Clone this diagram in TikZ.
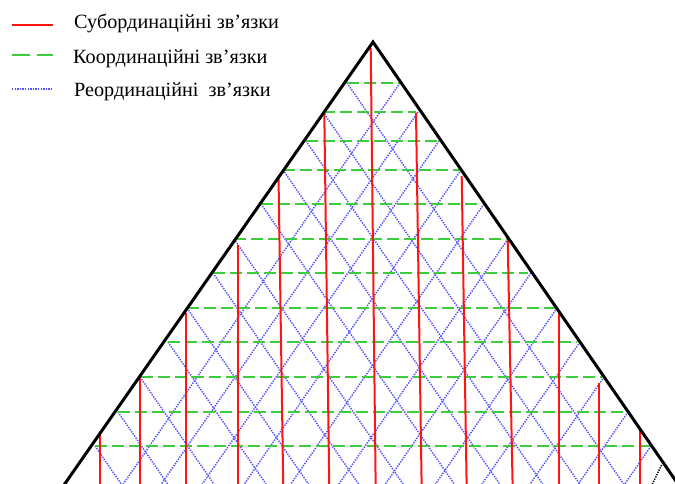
\documentclass[tikz,border=0pt]{standalone}
\usepackage{fontspec}
\setmainfont{Liberation Serif}
\definecolor{subred}{RGB}{255,20,20}
\definecolor{coordgreen}{RGB}{60,205,60}
\definecolor{reordblue}{RGB}{85,85,255}
\begin{document}
\begin{tikzpicture}[x=1pt,y=-1pt,
  sideline/.style={black, line width=3pt, line join=miter},
  subline/.style={subred, line width=2pt},
  coordline/.style={coordgreen, line width=2pt, dash pattern=on 12pt off 5pt},
  reordline/.style={reordblue, line width=1.5pt, dash pattern=on 1.4pt off 1.2pt},
  legtext/.style={anchor=base west, inner sep=0pt, font=\fontsize{20.2}{23}\selectfont}]
\useasboundingbox (0,0) rectangle (675,484);
\begin{scope}
\clip (0,0) rectangle (675,484);
% reordination (blue dotted) lattice
\foreach \y/\xa/\xb in {83/347/400,112/323/418,141/306/439,170/283/461,
  204/261/484,239/234/508,273/213/531,308/187/557,342/168/580,
  377/140/604,412/118/628,446/95/651}{
  \draw[reordline] (\xa,\y) -- ++({0.69*(520-\y)},{520-\y});
  \draw[reordline] (\xb,\y) -- ++({-0.69*(520-\y)},{520-\y});
}
% coordination (green dashed)
\foreach \y/\xa/\xb in {83/347/400,112/323/416,141/306/437,170/283/460,
  204/261/477,239/234/507,273/213/528,308/187/558,342/168/577,
  377/141/603,412/118/628,446/95/650}{
  \draw[coordline] (\xa,\y) -- (\xb,\y);
}
% subordination (red)
\foreach \xa/\ya/\xb in {100/435/100,140/378/140,186/313/186,238/245/238,
  278.5/176/283.3,324.3/113/329.3,370.7/48/375.7,416/113/421.7,461.7/176/466.7,
  507.7/240/512.7,559/313/559,599/383/599,640/430/640}{
  \draw[subline] (\xa,\ya) -- (\xb,490);
}
% triangle sides
\coordinate (apex) at (373,42);
\coordinate (bl) at (53.5,500);
\coordinate (br) at (689,500);
\draw[sideline] (bl) -- (apex) -- (br);
\draw[black, line width=1.4pt, dash pattern=on 1.3pt off 1.2pt] (661.5,465) -- (651.5,486);
\end{scope}
% legend
\draw[subline, line width=2.2pt] (12,25) -- (53,25);
\draw[coordgreen, line width=2.2pt] (12,55) -- (30,55) (37,55) -- (53,55);
\draw[reordline] (12,89) -- (53,89);
\node[legtext] (t1) at (74,28.5) {Субординаційні зв’язки};
\node[legtext] (t2) at (73,64) {Координаційні зв’язки};
\node[legtext] (t3) at (74,96.5) {Реординаційні\ \ зв’язки};
\end{tikzpicture}
\end{document}
